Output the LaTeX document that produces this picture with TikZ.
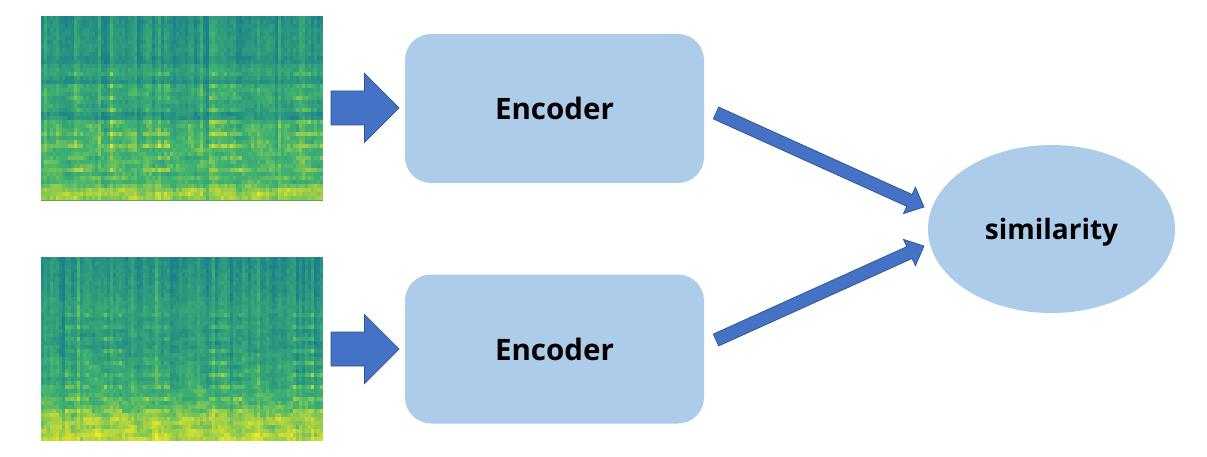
\documentclass[tikz,border=0pt]{standalone}
\usepackage{fontspec}
\setmainfont{Open Sans}
\usetikzlibrary{calc,shapes.geometric}
\definecolor{boxblue}{HTML}{ADCCEA}
\definecolor{arrowfill}{HTML}{4472C4}
\definecolor{arrowedge}{HTML}{2F528F}
\tikzset{
  x=1pt,y=-1pt,
  encbox/.style={font=\fontsize{29.5}{32}\selectfont\bfseries,fill=boxblue,draw=none,rounded corners=26pt,minimum width=299pt,minimum height=149pt,inner sep=0pt},
  simnode/.style={fill=boxblue,draw=none,ellipse,minimum width=247pt,minimum height=168pt,inner sep=0pt},
  simtext/.style={font=\fontsize{28}{30}\selectfont\bfseries,inner sep=0pt},
  blockarrow/.style={fill=arrowfill,draw=arrowedge,line width=0.7pt,line join=miter},
}
% block arrow between two named coordinates
\newcommand{\blockarrow}[5]{% from, to, half shaft, half head, head length
  \coordinate (hb) at ($(#2)!#5!(#1)$);
  \draw[blockarrow] ($(#1)!#3!90:(#2)$) -- ($(hb)!#3!-90:(#1)$) -- ($(hb)!#4!-90:(#1)$) -- (#2)
     -- ($(hb)!#4!90:(#1)$) -- ($(hb)!#3!90:(#1)$) -- ($(#1)!#3!-90:(#2)$) -- cycle;
}
% spectrogram: x0,y0,seed,harmonic gain,row list
\newcommand{\spectro}[5]{%
  \pgfmathsetseed{#3}%
  \foreach \c in {0,...,93}{%
    \pgfmathsetmacro{\coff}{0.26*rand*abs(rand)+0.07*sin(\c*97)+0.05*sin(\c*31)}%
    \pgfmathsetmacro{\inharm}{((\c>=34&&\c<=42)||(\c>=56&&\c<=66)||(\c>=8&&\c<=15)||(\c>=20&&\c<=26)||(\c>=84&&\c<=93))?0.7+0.5*rand:0}%
    \foreach \rv [count=\r] in {#5}{%
      \pgfmathsetmacro{\harm}{(\r>=14&&\r<=40)?(mod(\r,3)==0?#4*\inharm:-0.04*\inharm):0}%
      \pgfmathsetmacro{\rfade}{\r<12?1:(\r<34?0.7:0.3)}%
      \pgfmathsetmacro{\blob}{\r>18?0.10*sin(\c*23+\r*41)*sin(\c*11-\r*67):0}%
      \pgfmathsetmacro{\v}{max(0,min(1,\rv+\rfade*\coff+\harm+\blob+0.075*rand))}%
      \pgfmathsetmacro{\cr}{\v<0.5?0.10+0.30*\v:0.25+1.40*(\v-0.5)}%
      \pgfmathsetmacro{\cg}{\v<0.5?0.50+0.40*\v:0.70+0.42*(\v-0.5)}%
      \pgfmathsetmacro{\cb}{\v<0.5?0.55-0.22*\v:0.44-0.60*(\v-0.5)}%
      \definecolor{cellc}{rgb}{\cr,\cg,\cb}%
      \fill[cellc] ({#1+\c*3},{#2+(\r-1)*4}) rectangle ({#1+\c*3+3.4},{#2+\r*4+0.4});
    }%
  }%
}
\begin{document}
\begin{tikzpicture}
\useasboundingbox (0,0) rectangle (1207,457);
\fill[white] (0,0) rectangle (1207,457);
% spectrograms
\begin{scope}
\clip (41,16) rectangle (323,201);
\spectro{41}{16}{311}{0.16}{.16,.18,.20,.22,.24,.24,.24,.26,.26,.24,.17,.18,.32,.38,.34,.28,.20,.38,.44,.42,.38,.38,.36,.34,.22,.24,.46,.50,.50,.54,.50,.54,.58,.54,.52,.48,.52,.54,.56,.48,.56,.50,.62,.72,.78,.74}
\end{scope}
\fill[gray!70!green] (41,200) rectangle (323,201);
\begin{scope}
\clip (41,257) rectangle (323,441);
\spectro{41}{257}{977}{0.18}{.14,.16,.16,.18,.18,.20,.22,.22,.22,.24,.27,.30,.32,.34,.30,.28,.30,.30,.28,.28,.26,.26,.26,.28,.32,.34,.34,.36,.38,.38,.36,.40,.44,.46,.48,.50,.54,.58,.62,.70,.76,.78,.74,.78,.82,.84}
\end{scope}
% nodes
\node[encbox] (enc1) at (554.5,108.5) {Encoder};
\node[encbox] (enc2) at (554.5,349) {Encoder};
\node[simnode] (sim) at (1051.5,229) {};
\node[simtext] (simlabel) at (1051.5,232) {similarity};
% connectors
\coordinate (a1s) at (331,108);
\coordinate (a1t) at (399,108);
\coordinate (a2s) at (331,349);
\coordinate (a2t) at (399,349);
\coordinate (d1s) at (716,113);
\coordinate (d1t) at (924,207);
\coordinate (d2s) at (716,340);
\coordinate (d2t) at (924,246);
\blockarrow{a1s}{a1t}{17pt}{34.5pt}{34.5pt}
\blockarrow{a2s}{a2t}{17pt}{34.5pt}{34.5pt}
\blockarrow{d1s}{d1t}{6.5pt}{14.5pt}{16pt}
\blockarrow{d2s}{d2t}{6.5pt}{14.5pt}{16pt}
\end{tikzpicture}
\end{document}
